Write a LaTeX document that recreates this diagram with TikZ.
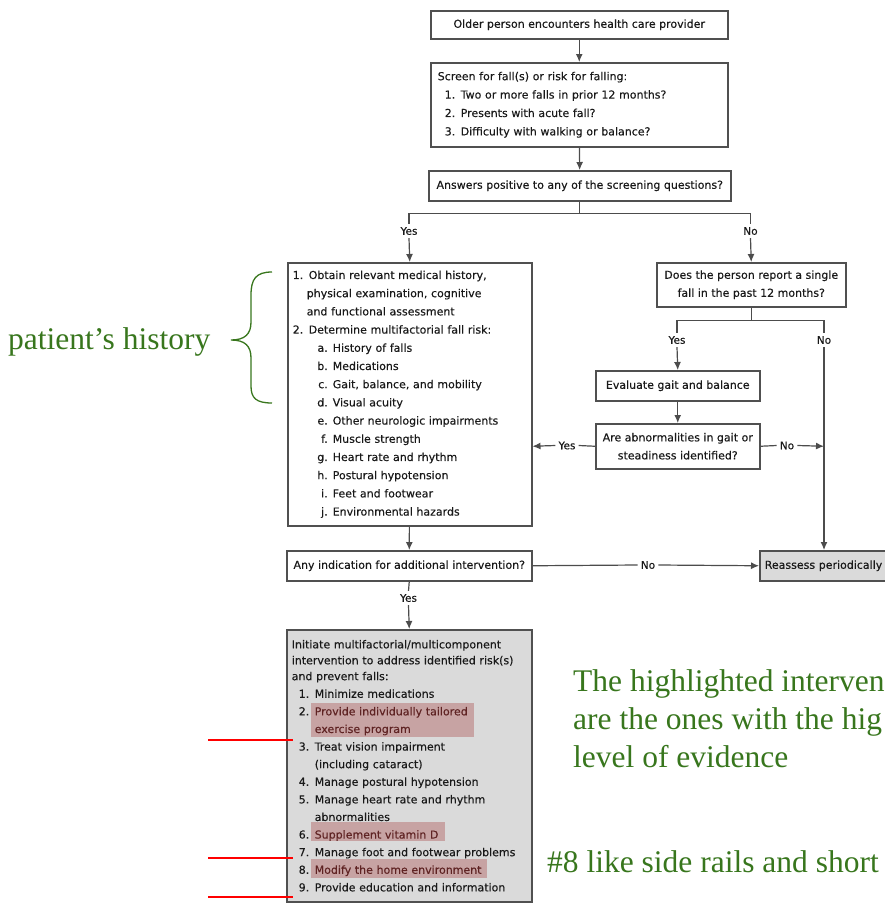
\documentclass[tikz,border=0pt]{standalone}
\usepackage{fontspec}
\usetikzlibrary{arrows.meta,backgrounds}
\newfontfamily\flowfont[FakeBold=0.3]{DejaVu Sans}
\newfontfamily\notefont{Liberation Serif}
\definecolor{notegreen}{RGB}{56,118,29}
\definecolor{boxline}{RGB}{80,80,80}
\definecolor{actgray}{RGB}{218,218,218}
\definecolor{hlrose}{RGB}{199,163,163}
\definecolor{hltext}{RGB}{95,35,35}
\newcommand{\sub}[2]{\hspace*{22pt}\makebox[13pt][r]{#1}\hspace{5pt}#2}
\newcommand{\act}[2]{\hspace*{7pt}\makebox[11pt][l]{#1}\hspace{5pt}#2}
\tikzset{
  box/.style={draw=boxline, line width=1.5pt, text=black!90, inner xsep=5pt, inner ysep=0pt,
    font=\flowfont\fontsize{11}{18.4}\selectfont},
  lbl/.style={text=black!90, inner sep=3pt, font=\flowfont\fontsize{10.5}{13}\selectfont},
  line/.style={draw=black!70, line width=1.2pt},
  arr/.style={line, -{Latex[length=8pt,width=7pt]}},
  note/.style={text=notegreen, inner sep=0pt, font=\notefont\fontsize{31.5}{37.8}\selectfont},
  redline/.style={draw=red, line width=1.5pt}
}
\begin{document}
\begin{tikzpicture}[x=1pt,y=-1pt]
  \useasboundingbox (0,0) rectangle (885,903);
  \clip (0,0) rectangle (885,903);
  \node[box, anchor=north west, minimum width=297pt, minimum height=28pt] (meet) at (430,10) {Older person encounters health care provider};
  \node[box, anchor=north west, text width=283pt, inner xsep=7pt, minimum height=84pt, align=left] (screen) at (430,62)
    {Screen for fall(s) or risk for falling:\\
     \hspace*{7pt}1. Two or more falls in prior 12 months?\\
     \hspace*{7pt}2. Presents with acute fall?\\
     \hspace*{7pt}3. Difficulty with walking or balance?};
  \node[box, anchor=north west, minimum width=302pt, minimum height=30pt] (ask) at (428,170) {Answers positive to any of the screening questions?};
  \node[lbl] (yes1) at (409,231) {Yes};
  \node[lbl] (no1) at (750.5,231) {No};
  \node[box, anchor=north west, text width=234pt, minimum height=263pt, align=left, font=\flowfont\fontsize{11}{18.2}\selectfont] (hist) at (287,262)
    {1. Obtain relevant medical history,\\
     \hspace*{14pt}physical examination, cognitive\\
     \hspace*{14pt}and functional assessment\\
     2. Determine multifactorial fall risk:\\
     \sub{a.}{History of falls}\\
     \sub{b.}{Medications}\\
     \sub{c.}{Gait, balance, and mobility}\\
     \sub{d.}{Visual acuity}\\
     \sub{e.}{Other neurologic impairments}\\
     \sub{f.}{Muscle strength}\\
     \sub{g.}{Heart rate and rhythm}\\
     \sub{h.}{Postural hypotension}\\
     \sub{i.}{Feet and footwear}\\
     \sub{j.}{Environmental hazards}};
  \node[box, anchor=north west, minimum width=189pt, minimum height=44pt, align=center, font=\flowfont\fontsize{11}{18}\selectfont] (single) at (656,262)
    {Does the person report a single\\fall in the past 12 months?};
  \node[lbl] (yes2) at (677,340) {Yes};
  \node[lbl] (no2) at (824,340) {No};
  \node[box, anchor=north west, minimum width=164pt, minimum height=30pt] (gait) at (595,370) {Evaluate gait and balance};
  \node[box, anchor=north west, minimum width=164pt, minimum height=45pt, align=center, font=\flowfont\fontsize{11}{18}\selectfont] (abn) at (595,423)
    {Are abnormalities in gait or\\steadiness identified?};
  \node[lbl] (yes3) at (567,445.5) {Yes};
  \node[lbl] (no3) at (787,445.5) {No};
  \node[box, anchor=north west, minimum width=245pt, minimum height=30pt] (any) at (286,550) {Any indication for additional intervention?};
  \node[box, anchor=north west, fill=actgray, text width=126pt, minimum height=30pt, align=left] (reass) at (759,550) {Reassess periodically};
  \node[lbl] (no4) at (648,565) {No};
  \node[lbl] (yes4) at (408.5,598) {Yes};
  \node[box, anchor=north west, text width=235pt, minimum height=272pt, align=left, font=\flowfont\fontsize{11}{17.6}\selectfont] (act) at (286,629)
    {Initiate multifactorial/multicomponent\\[-1.7pt]
     intervention to address identified risk(s)\\[-1.7pt]
     and prevent falls:\\
     \act{1.}{Minimize medications}\\
     \act{2.}{\textcolor{hltext}{Provide individually tailored}}\\
     \hspace*{23pt}\textcolor{hltext}{exercise program}\\
     \act{3.}{Treat vision impairment}\\
     \hspace*{23pt}(including cataract)\\
     \act{4.}{Manage postural hypotension}\\
     \act{5.}{Manage heart rate and rhythm}\\
     \hspace*{23pt}abnormalities\\
     \act{6.}{\textcolor{hltext}{Supplement vitamin D}}\\
     \act{7.}{Manage foot and footwear problems}\\
     \act{8.}{\textcolor{hltext}{Modify the home environment}}\\
     \act{9.}{Provide education and information}};
  \begin{scope}[on background layer]
    \fill[actgray] (act.north west) rectangle (act.south east);
    \fill[hlrose] (311,703) rectangle (474,737);
    \fill[hlrose] (311,822) rectangle (445,841);
    \fill[hlrose] (311,859) rectangle (487,878);
  \end{scope}
  \draw[arr] (meet) -- (screen);
  \draw[arr] (screen) -- (ask);
  \draw[line] (ask.south) -- ++(0,12) coordinate (fork1);
  \draw[line] (yes1.north) |- (fork1) -| (no1.north);
  \draw[arr] (yes1.south) -- (hist.north);
  \draw[arr] (no1.south) -- (single.north);
  \draw[line] (single.south) -- ++(0,13) coordinate (fork2);
  \draw[line] (yes2.north) |- (fork2) -| (no2.north);
  \draw[arr] (yes2.south) -- (gait.north);
  \draw[arr] (gait) -- (abn);
  \draw[line] (abn.west) -- (yes3.east);
  \draw[arr] (yes3.west) -- (abn.west -| hist.east);
  \draw[line] (abn.east) -- (no3.west);
  \draw[arr] (no3.east) -- (abn.east -| no2.south);
  \draw[arr] (no2.south) -- (no2.south |- reass.north);
  \draw[arr] (hist) -- (any);
  \draw[line] (any.east) -- (no4.west);
  \draw[arr] (no4.east) -- (reass.west);
  \draw[line] (any.south) -- (yes4.north);
  \draw[arr] (yes4.south) -- (act.north);
  \node[note, anchor=base west] (histnote) at (8,349) {patient’s history};
  \draw[notegreen, line width=1.3pt] (272,272) .. controls (256,272) and (251,279) .. (251,295) -- (251,322)
    .. controls (251,334) and (245,340) .. (231,340) .. controls (245,340) and (251,346) .. (251,358)
    -- (251,386) .. controls (251,398) and (256,403) .. (272,403);
  \node[note, anchor=north west, align=left] (evnote) at (573,669.5) {The highlighted interven\\are the ones with the hig\\level of evidence};
  \node[note, anchor=base west] (railnote) at (547,872) {\#8 like side rails and short};
  \draw[redline] (208,740) -- (293,740);
  \draw[redline] (208,858) -- (293,858);
  \draw[redline] (208,897) -- (293,897);
\end{tikzpicture}
\end{document}
